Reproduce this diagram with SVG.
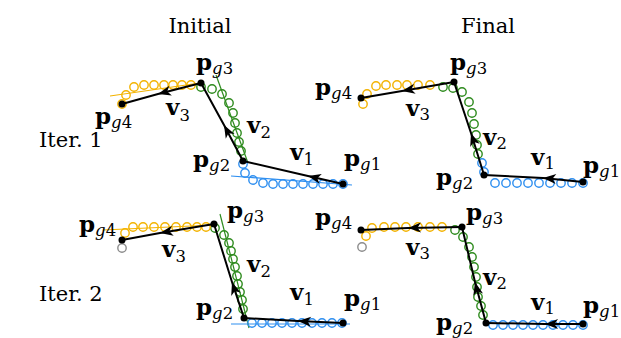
<svg xmlns="http://www.w3.org/2000/svg" width="621" height="338" viewBox="0 0 621 338">
<style>
.t{font-family:"DejaVu Serif",serif;font-size:21px;fill:#000}
.p{font-family:"DejaVu Serif",serif;font-size:23px;font-weight:bold;fill:#000}
.s{font-size:16.5px;font-weight:normal}
.i{font-style:italic}
.vec{fill:none;stroke:#000;stroke-width:2;marker-mid:url(#ah)}
.pt{fill:#000}
.cb{fill:none;stroke:#2f8ff0;stroke-width:1.4}
.cg{fill:none;stroke:#2e8b1e;stroke-width:1.4}
.cy{fill:none;stroke:#f3b300;stroke-width:1.4}
.cgr{fill:none;stroke:#8c8c8c;stroke-width:1.4}
.lb{stroke:#2f8ff0;stroke-width:1.2}
.lg{stroke:#2e8b1e;stroke-width:1.2}
.ly{stroke:#f3b300;stroke-width:1.2}
</style>
<defs>
<marker id="ah" markerUnits="userSpaceOnUse" viewBox="-14 -6 15 12" refX="0" refY="0" markerWidth="15" markerHeight="12" orient="auto">
<path d="M0,0 L-13,-5 L-9.5,0 L-13,5 Z" fill="#000"/>
</marker>
</defs>
<text class="t" x="200" y="33" text-anchor="middle">Initial</text>
<text class="t" x="488" y="33" text-anchor="middle">Final</text>
<text class="t" x="39" y="147">Iter. 1</text>
<text class="t" x="39" y="301">Iter. 2</text>

<g id="fits">
<line class="lb" x1="231" y1="176" x2="352" y2="185"/>
<line class="lg" x1="216" y1="75" x2="248" y2="163"/>
<line class="ly" x1="110" y1="96" x2="200" y2="83"/>
<line class="lb" x1="231" y1="324" x2="350" y2="324"/>
<line class="lg" x1="220" y1="214" x2="249" y2="328"/>
<line class="ly" x1="103" y1="230" x2="214" y2="225"/>
</g>

<g id="samples-1">
<g class="cb"><circle cx="243" cy="164" r="4.2"/><circle cx="245" cy="173" r="4.2"/><circle cx="253" cy="180" r="4.2"/><circle cx="263" cy="183" r="4.2"/><circle cx="273" cy="184" r="4.2"/><circle cx="283" cy="184" r="4.2"/><circle cx="293" cy="184" r="4.2"/><circle cx="303" cy="184" r="4.2"/><circle cx="313" cy="184" r="4.2"/><circle cx="323" cy="184" r="4.2"/><circle cx="333" cy="184" r="4.2"/><circle cx="343" cy="184" r="4.2"/></g>
<g class="cg"><circle cx="201" cy="87" r="4.2"/><circle cx="212" cy="89" r="4.2"/><circle cx="222" cy="94" r="4.2"/><circle cx="229" cy="103" r="4.2"/><circle cx="233" cy="113" r="4.2"/><circle cx="235" cy="123" r="4.2"/><circle cx="237" cy="133" r="4.2"/><circle cx="239" cy="142" r="4.2"/><circle cx="241" cy="151" r="4.2"/></g>
<g class="cy"><circle cx="122" cy="104" r="4.2"/><circle cx="126" cy="95" r="4.2"/><circle cx="134" cy="87" r="4.2"/><circle cx="144" cy="85" r="4.2"/><circle cx="154" cy="85" r="4.2"/><circle cx="164" cy="85" r="4.2"/><circle cx="173" cy="85" r="4.2"/><circle cx="182" cy="85" r="4.2"/><circle cx="191" cy="85" r="4.2"/></g>
</g>
<g id="samples-2">
<g class="cb"><circle cx="482" cy="163" r="4.2"/><circle cx="484" cy="172" r="4.2"/><circle cx="495" cy="183" r="4.2"/><circle cx="506" cy="183" r="4.2"/><circle cx="517" cy="183" r="4.2"/><circle cx="528" cy="183" r="4.2"/><circle cx="539" cy="183" r="4.2"/><circle cx="550" cy="183" r="4.2"/><circle cx="561" cy="183" r="4.2"/><circle cx="572" cy="183" r="4.2"/><circle cx="583" cy="183" r="4.2"/></g>
<g class="cg"><circle cx="443" cy="87" r="4.2"/><circle cx="453" cy="88" r="4.2"/><circle cx="462" cy="92" r="4.2"/><circle cx="469" cy="102" r="4.2"/><circle cx="472" cy="113" r="4.2"/><circle cx="474" cy="124" r="4.2"/><circle cx="476" cy="135" r="4.2"/><circle cx="477" cy="145" r="4.2"/><circle cx="478" cy="154" r="4.2"/></g>
<g class="cy"><circle cx="363" cy="104" r="4.2"/><circle cx="367" cy="94" r="4.2"/><circle cx="376" cy="86" r="4.2"/><circle cx="386" cy="85" r="4.2"/><circle cx="397" cy="85" r="4.2"/><circle cx="407" cy="85" r="4.2"/><circle cx="418" cy="85" r="4.2"/><circle cx="430" cy="85" r="4.2"/></g>
</g>
<g id="samples-3">
<g class="cb"><circle cx="252" cy="323" r="4.2"/><circle cx="262" cy="323" r="4.2"/><circle cx="272" cy="323" r="4.2"/><circle cx="282" cy="323" r="4.2"/><circle cx="292" cy="323" r="4.2"/><circle cx="302" cy="323" r="4.2"/><circle cx="312" cy="323" r="4.2"/><circle cx="322" cy="323" r="4.2"/><circle cx="332" cy="323" r="4.2"/><circle cx="342" cy="323" r="4.2"/></g>
<g class="cg"><circle cx="215" cy="228" r="4.2"/><circle cx="224" cy="235" r="4.2"/><circle cx="229" cy="243" r="4.2"/><circle cx="231" cy="251" r="4.2"/><circle cx="233" cy="259" r="4.2"/><circle cx="235" cy="267" r="4.2"/><circle cx="237" cy="276" r="4.2"/><circle cx="238" cy="284" r="4.2"/><circle cx="240" cy="292" r="4.2"/><circle cx="242" cy="300" r="4.2"/><circle cx="243" cy="309" r="4.2"/></g>
<g class="cy"><circle cx="125" cy="233" r="4.2"/><circle cx="133" cy="227" r="4.2"/><circle cx="143" cy="227" r="4.2"/><circle cx="154" cy="227" r="4.2"/><circle cx="165" cy="227" r="4.2"/><circle cx="176" cy="227" r="4.2"/><circle cx="187" cy="227" r="4.2"/><circle cx="197" cy="227" r="4.2"/><circle cx="206" cy="227" r="4.2"/></g>
<circle class="cgr" cx="122" cy="248" r="4.2"/>
</g>
<g id="samples-4">
<g class="cb"><circle cx="493" cy="325" r="4.2"/><circle cx="503" cy="325" r="4.2"/><circle cx="513" cy="325" r="4.2"/><circle cx="523" cy="325" r="4.2"/><circle cx="533" cy="325" r="4.2"/><circle cx="543" cy="325" r="4.2"/><circle cx="553" cy="325" r="4.2"/><circle cx="563" cy="325" r="4.2"/><circle cx="573" cy="325" r="4.2"/><circle cx="583" cy="325" r="4.2"/></g>
<g class="cg"><circle cx="455" cy="230" r="4.2"/><circle cx="463" cy="237" r="4.2"/><circle cx="469" cy="247" r="4.2"/><circle cx="472" cy="257" r="4.2"/><circle cx="474" cy="267" r="4.2"/><circle cx="476" cy="277" r="4.2"/><circle cx="477" cy="287" r="4.2"/><circle cx="478" cy="297" r="4.2"/><circle cx="481" cy="306" r="4.2"/><circle cx="483" cy="315" r="4.2"/></g>
<g class="cy"><circle cx="366" cy="236" r="4.2"/><circle cx="372" cy="228" r="4.2"/><circle cx="384" cy="227" r="4.2"/><circle cx="395" cy="227" r="4.2"/><circle cx="406" cy="227" r="4.2"/><circle cx="418" cy="227" r="4.2"/><circle cx="430" cy="227" r="4.2"/><circle cx="442" cy="227" r="4.2"/></g>
<circle class="cgr" cx="362" cy="247" r="4.2"/>
</g>

<g id="connectors">
<polyline class="vec" points="343,184 308,176 243,161"/>
<polyline class="vec" points="243,161 224,125 201,83"/>
<polyline class="vec" points="201,83 158,94 122,104"/>
<polyline class="vec" points="583,182 543,178 484,175"/>
<polyline class="vec" points="484,175 471,133 454,82"/>
<polyline class="vec" points="454,82 402,91 361,98"/>
<polyline class="vec" points="343,323 298,321 244,318"/>
<polyline class="vec" points="244,318 232,282 214,224"/>
<polyline class="vec" points="214,224 160,233 122,240"/>
<polyline class="vec" points="583,324 545,324 486,323"/>
<polyline class="vec" points="486,323 475,282 462,227"/>
<polyline class="vec" points="462,227 408,228 361,230"/>
</g>

<g id="p1-g1"><circle class="pt" cx="343" cy="184" r="3.5"/><text class="p" x="344" y="166">p<tspan class="s i" dy="4">g</tspan><tspan class="s">1</tspan></text></g>
<g id="p1-g2"><circle class="pt" cx="243" cy="161" r="3.5"/><text class="p" x="193" y="167">p<tspan class="s i" dy="4">g</tspan><tspan class="s">2</tspan></text></g>
<g id="p1-g3"><circle class="pt" cx="201" cy="83" r="3.5"/><text class="p" x="196" y="70">p<tspan class="s i" dy="4">g</tspan><tspan class="s">3</tspan></text></g>
<g id="p1-g4"><circle class="pt" cx="122" cy="104" r="3.5"/><text class="p" x="95" y="124">p<tspan class="s i" dy="4">g</tspan><tspan class="s">4</tspan></text></g>
<g id="p1-v"><text class="p" x="290" y="160">v<tspan class="s" dy="5">1</tspan></text><text class="p" x="247" y="133">v<tspan class="s" dy="5">2</tspan></text><text class="p" x="166" y="115">v<tspan class="s" dy="6">3</tspan></text></g>

<g id="p2-g1"><circle class="pt" cx="583" cy="182" r="3.5"/><text class="p" x="583" y="173">p<tspan class="s i" dy="4">g</tspan><tspan class="s">1</tspan></text></g>
<g id="p2-g2"><circle class="pt" cx="484" cy="175" r="3.5"/><text class="p" x="436" y="185">p<tspan class="s i" dy="4">g</tspan><tspan class="s">2</tspan></text></g>
<g id="p2-g3"><circle class="pt" cx="454" cy="82" r="3.5"/><text class="p" x="450" y="70">p<tspan class="s i" dy="4">g</tspan><tspan class="s">3</tspan></text></g>
<g id="p2-g4"><circle class="pt" cx="361" cy="98" r="3.5"/><text class="p" x="315" y="95">p<tspan class="s i" dy="4">g</tspan><tspan class="s">4</tspan></text></g>
<g id="p2-v"><text class="p" x="531" y="165">v<tspan class="s" dy="4">1</tspan></text><text class="p" x="483" y="145">v<tspan class="s" dy="4">2</tspan></text><text class="p" x="406" y="116">v<tspan class="s" dy="4">3</tspan></text></g>

<g id="p3-g1"><circle class="pt" cx="343" cy="323" r="3.5"/><text class="p" x="344" y="306">p<tspan class="s i" dy="4">g</tspan><tspan class="s">1</tspan></text></g>
<g id="p3-g2"><circle class="pt" cx="244" cy="318" r="3.5"/><text class="p" x="196" y="315">p<tspan class="s i" dy="4">g</tspan><tspan class="s">2</tspan></text></g>
<g id="p3-g3"><circle class="pt" cx="214" cy="224" r="3.5"/><text class="p" x="227" y="218">p<tspan class="s i" dy="4">g</tspan><tspan class="s">3</tspan></text></g>
<g id="p3-g4"><circle class="pt" cx="122" cy="240" r="3.5"/><text class="p" x="79" y="232">p<tspan class="s i" dy="4">g</tspan><tspan class="s">4</tspan></text></g>
<g id="p3-v"><text class="p" x="290" y="300">v<tspan class="s" dy="5">1</tspan></text><text class="p" x="247" y="272">v<tspan class="s" dy="5">2</tspan></text><text class="p" x="162" y="257">v<tspan class="s" dy="5">3</tspan></text></g>

<g id="p4-g1"><circle class="pt" cx="583" cy="324" r="3.5"/><text class="p" x="583" y="313">p<tspan class="s i" dy="4">g</tspan><tspan class="s">1</tspan></text></g>
<g id="p4-g2"><circle class="pt" cx="486" cy="323" r="3.5"/><text class="p" x="436" y="330">p<tspan class="s i" dy="4">g</tspan><tspan class="s">2</tspan></text></g>
<g id="p4-g3"><circle class="pt" cx="462" cy="227" r="3.5"/><text class="p" x="466" y="220">p<tspan class="s i" dy="4">g</tspan><tspan class="s">3</tspan></text></g>
<g id="p4-g4"><circle class="pt" cx="361" cy="230" r="3.5"/><text class="p" x="315" y="225">p<tspan class="s i" dy="4">g</tspan><tspan class="s">4</tspan></text></g>
<g id="p4-v"><text class="p" x="531" y="310">v<tspan class="s" dy="4">1</tspan></text><text class="p" x="483" y="285">v<tspan class="s" dy="4">2</tspan></text><text class="p" x="406" y="255">v<tspan class="s" dy="4">3</tspan></text></g>
</svg>
